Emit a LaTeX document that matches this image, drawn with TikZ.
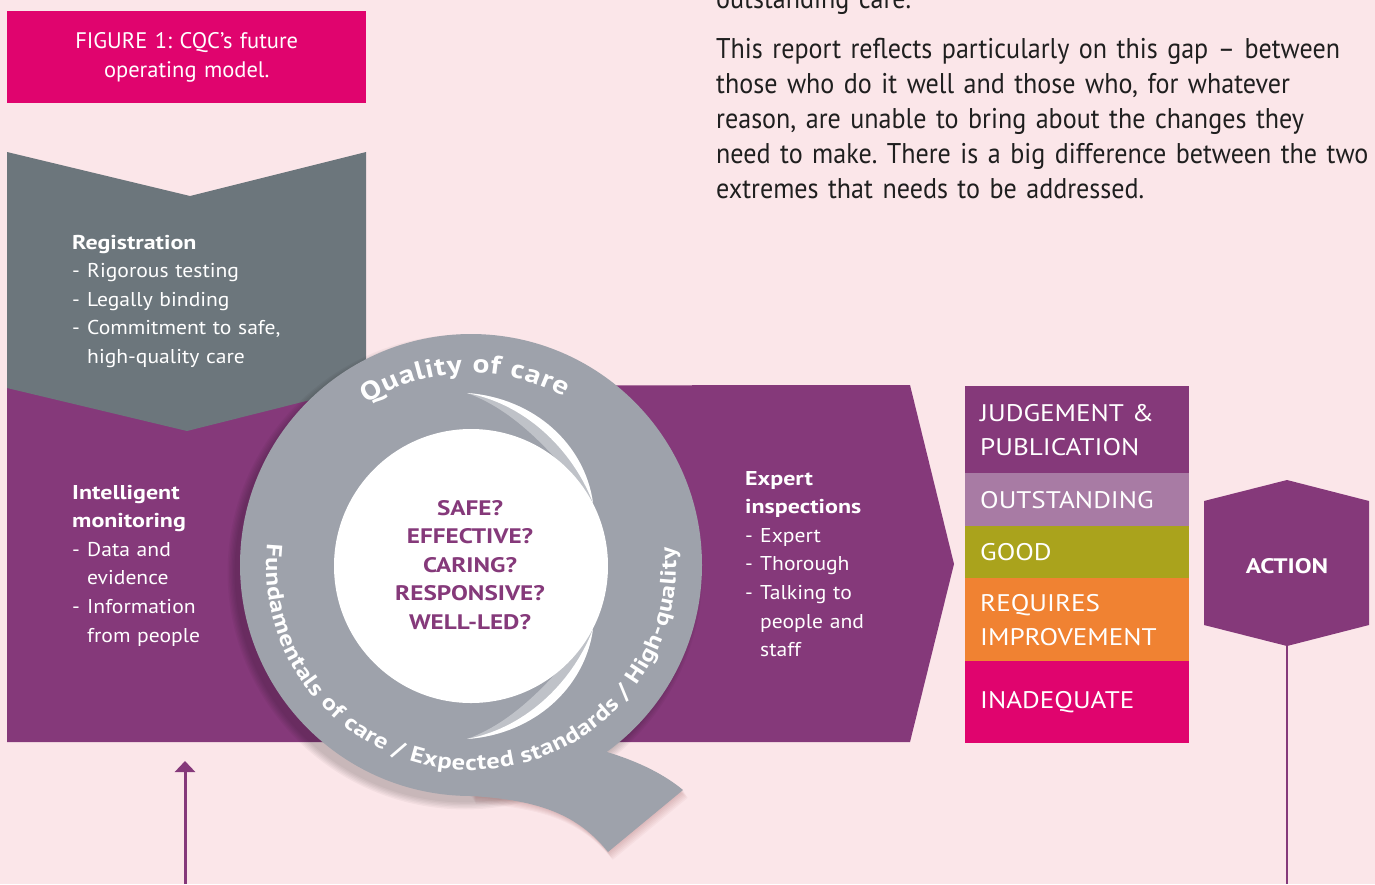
\documentclass[tikz,border=0pt]{standalone}
\usepackage{fontspec}
\setmainfont{PT Sans}
\newfontfamily\paraf{PT Sans}[FakeStretch=0.915]
\newfontfamily\bodyf{PT Sans}[FakeStretch=1.08]
\newfontfamily\ratef{PT Sans}[FakeStretch=1.13]
\newfontfamily\boldf{PT Sans}[FakeStretch=1.2]
\usetikzlibrary{decorations.text,arrows.meta}
\definecolor{bgpink}{HTML}{FBE6E9}
\definecolor{cqcmag}{HTML}{E0046E}
\definecolor{cqcpurple}{HTML}{85397A}
\definecolor{chevgray}{HTML}{6C767C}
\definecolor{ringgray}{HTML}{9EA2AB}
\definecolor{outst}{HTML}{A87BA4}
\definecolor{goodc}{HTML}{AAA31C}
\definecolor{reqc}{HTML}{F08232}
\pgfdeclareradialshading{diskshade}{\pgfpoint{0bp}{0bp}}{color(0bp)=(white); color(40bp)=(white); color(46bp)=(white!93!black); color(50bp)=(white!80!black)}
\newcommand\qfontA{\boldf\bfseries\fontsize{26}{26}\selectfont}
\newcommand\qfontB{\boldf\bfseries\fontsize{22}{22}\selectfont}
\newcommand\hd[1]{{\boldf\bfseries #1}}
\newcommand\dd{\makebox[15pt][l]{-}}
\newcommand\ii{\makebox[15pt][l]{}}
\frenchspacing
\tikzset{
  bodytext/.style={anchor=base west, inner sep=0pt, text width=260pt, align=left, text=white, font=\bodyf\fontsize{20}{28.6}\selectfont},
  rating/.style={anchor=north west, minimum width=224pt, text width=194pt, inner xsep=15pt, inner ysep=0pt, align=left, text=white, font=\ratef\fontsize{24}{34}\selectfont},
  paratext/.style={anchor=base west, inner sep=0pt, text width=700pt, align=left, text=black!88, font=\paraf\fontsize{28.5}{35}\selectfont}
}
\begin{document}
\begin{tikzpicture}[x=1pt,y=-1pt]
\useasboundingbox (0,0) rectangle (1375,884);
\fill[bgpink] (0,0) rectangle (1375,884);

% title box
\node[fill=cqcmag, minimum width=359pt, minimum height=92pt, anchor=north west, inner sep=0pt, text width=359pt, align=center, text=white, font=\fontsize{22.5}{29}\selectfont] (title) at (7,11) {FIGURE 1: CQC’s future\\operating model.};

% paragraph
\node[paratext] (prev) at (716,8) {outstanding care.};
\node[paratext] (para) at (716,58) {This report reflects particularly on this gap – between\\those who do it well and those who, for whatever\\reason, are unable to bring about the changes they\\need to make. There is a big difference between the two\\extremes that needs to be addressed.};

% purple band
\fill[cqcpurple] (7,386) -- (910,385) -- (954,564) -- (910,742) -- (7,742) -- cycle;
% gray chevron
\fill[chevgray] (7,152) -- (190,196) -- (366,152) -- (366,386) -- (187,431) -- (7,388) -- cycle;

% shadows
\foreach \i in {1,...,6} {
  \fill[black, opacity=0.035] (465,572) circle[radius=229+\i*1.4];
  \fill[black!60!red, opacity=0.03] ([shift={(\i*0.8,\i*1.3)}]607,752) .. controls ([shift={(\i*0.8,\i*1.3)}]640,762) and ([shift={(\i*0.8,\i*1.3)}]665,775) .. ([shift={(\i*0.8,\i*1.3)}]683,790) -- ([shift={(\i*0.8,\i*1.3)}]608,852) .. controls ([shift={(\i*0.8,\i*1.3)}]578,815) and ([shift={(\i*0.8,\i*1.3)}]540,800) .. ([shift={(\i*0.8,\i*1.3)}]471,796) -- (471,700) -- cycle;
}
% tail
\fill[ringgray] (607,752) .. controls (640,762) and (665,775) .. (683,790) -- (608,852) .. controls (578,815) and (540,800) .. (471,796) -- (471,700) -- cycle;
% ring
\fill[ringgray] (471,565) circle[radius=231];
% disk
\shade[shading=diskshade] (471,566) circle[radius=137];
% crescents
\fill[white, opacity=0.35] (467,393) .. controls (535,398) and (585,445) .. (593,503) .. controls (560,462) and (520,412) .. (467,393) -- cycle;
\fill[white] (467,393) .. controls (535,398) and (585,445) .. (593,503) .. controls (575,455) and (530,405) .. (467,393) -- cycle;
\fill[white, opacity=0.35] (467,739) .. controls (535,734) and (585,687) .. (593,629) .. controls (560,670) and (520,720) .. (467,739) -- cycle;
\fill[white] (467,739) .. controls (535,734) and (585,687) .. (593,629) .. controls (575,677) and (530,727) .. (467,739) -- cycle;

% ring texts
\path[decorate, decoration={text along path, text color=white, text={|\qfontA|Quality of care}, text align=fit to path}] (471,565) ++(237:192) arc[start angle=237, end angle=299, radius=192];
\path[decorate, decoration={text along path, text color=white, text={|\qfontB|Fundamentals of care / Expected standards / High-quality}, text align=fit to path}] (471,565) ++(186:205) arc[start angle=186, end angle=-5, radius=205];

% centre questions
\node[anchor=base, inner sep=0pt, text width=220pt, align=center, text=cqcpurple, font=\boldf\bfseries\fontsize{21}{28.5}\selectfont] (questions) at (470,515) {SAFE?\\EFFECTIVE?\\CARING?\\RESPONSIVE?\\WELL-LED?};

% left and right texts
\node[bodytext] (reg) at (72,249) {\hd{Registration}\\\dd Rigorous testing\\\dd Legally binding\\\dd Commitment to safe,\\\ii high-quality care};
\node[bodytext] (mon) at (72,499) {\hd{Intelligent}\\\hd{monitoring}\\\dd Data and\\\ii evidence\\\dd Information\\\ii from people};
\node[bodytext] (insp) at (745,485) {\hd{Expert}\\\hd{inspections}\\\dd Expert\\\dd Thorough\\\dd Talking to\\\ii people and\\\ii staff};

% ratings
\node[rating, fill=cqcpurple, minimum height=87pt] (judg) at (965,386) {JUDGEMENT \&\\PUBLICATION};
\node[rating, fill=outst, minimum height=53pt] (outs) at (965,473) {OUTSTANDING};
\node[rating, fill=goodc, minimum height=52pt] (good) at (965,526) {GOOD};
\node[rating, fill=reqc, minimum height=83pt] (reqi) at (965,578) {REQUIRES\\IMPROVEMENT};
\node[rating, fill=cqcmag, minimum height=82pt] (inad) at (965,661) {INADEQUATE};

% action hexagon
\fill[cqcpurple] (1287,480) -- (1369,501) -- (1369,625) -- (1287,646) -- (1204,625) -- (1204,501) -- cycle;
\node[text=white, inner sep=0pt, font=\boldf\bfseries\fontsize{21}{21}\selectfont] (action) at (1287,566) {ACTION};
\coordinate (hexbot) at (1287,646);
\coordinate (actend) at (1287,884);
\draw[cqcpurple, line width=2.7pt] (hexbot) -- (actend);

% arrow up
\coordinate (arrstart) at (185,884);
\coordinate (arrtip) at (185,761);
\draw[cqcpurple, line width=3pt, -{Triangle[width=20pt,length=11pt]}] (arrstart) -- (arrtip);
\end{tikzpicture}
\end{document}
